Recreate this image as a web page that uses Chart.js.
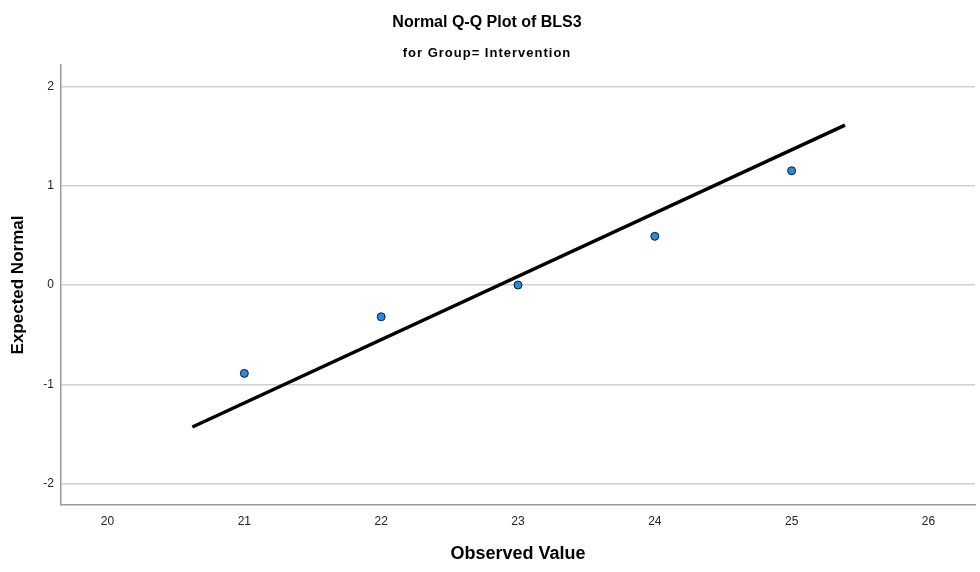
<!DOCTYPE html>
<html>
<head>
<meta charset="utf-8">
<script src="https://cdn.jsdelivr.net/npm/chart.js@4.4.1/dist/chart.umd.min.js"></script>
<style>
  html, body { margin: 0; padding: 0; background: #ffffff; }
  #wrap { width: 980px; height: 572px; }
</style>
</head>
<body>
<div id="wrap"><canvas id="qqChart" width="980" height="572"></canvas></div>
<script>
const chartTitle = 'Normal Q-Q Plot of BLS3';
const chartSubtitle = 'for Group= Intervention';
const xTitle = 'Observed Value';
const yTitle = 'Expected Normal';

// observed values and their expected normal quantiles
const observed = [21, 22, 23, 24, 25];
const expected = [-0.89, -0.32, 0.00, 0.49, 1.15];

// reference line end points
const lineX = [20.62, 25.39];
const lineY = [-1.43, 1.61];

const xTicks = [20, 21, 22, 23, 24, 25, 26];
const yTicks = [-2, -1, 0, 1, 2];
const xRange = [19.66, 26.34];
const yRange = [-2.215, 2.215];

const fontFamily = '"Liberation Sans", Arial, Helvetica, sans-serif';

// titles drawn by hand so the two lines sit where SPSS puts them
const titlePlugin = {
  id: 'spssTitles',
  afterDraw(chart) {
    const ctx = chart.ctx;
    ctx.save();
    ctx.fillStyle = '#000000';
    ctx.textAlign = 'center';
    ctx.textBaseline = 'alphabetic';
    ctx.font = 'bold 16px ' + fontFamily;
    ctx.fillText(chartTitle, 487, 27);
    ctx.font = 'bold 13px ' + fontFamily;
    if ('letterSpacing' in ctx) ctx.letterSpacing = '1px';
    ctx.fillText(chartSubtitle, 487, 57);
    ctx.restore();
  }
};

const ctx = document.getElementById('qqChart').getContext('2d');
new Chart(ctx, {
  type: 'scatter',
  data: {
    datasets: [
      {
        label: 'Observed',
        data: observed.map((x, i) => ({ x: x, y: expected[i] })),
        backgroundColor: '#1f8ce6',
        borderColor: '#1a1a1a',
        borderWidth: 1,
        pointRadius: 4,
        order: 2
      },
      {
        label: 'Line',
        type: 'line',
        data: lineX.map((x, i) => ({ x: x, y: lineY[i] })),
        borderColor: '#000000',
        borderWidth: 3.5,
        pointRadius: 0,
        fill: false,
        order: 1
      }
    ]
  },
  options: {
    responsive: false,
    devicePixelRatio: 1,
    animation: false,
    layout: { padding: { top: 65, right: 0, bottom: 0, left: 0 } },
    plugins: {
      legend: { display: false },
      tooltip: { enabled: false },
      title: { display: false }
    },
    scales: {
      x: {
        type: 'linear',
        min: xRange[0],
        max: xRange[1],
        afterBuildTicks: axis => { axis.ticks = xTicks.map(v => ({ value: v })); },
        afterFit: scale => { scale.height = 67; },
        grid: { display: false, drawTicks: false },
        border: { display: true, color: '#9a9a9a', width: 1.5 },
        ticks: {
          color: '#222222',
          padding: 9,
          font: { family: fontFamily, size: 12 },
          maxRotation: 0
        },
        title: {
          display: true,
          text: xTitle,
          color: '#000000',
          font: { family: fontFamily, size: 18, weight: 'bold' },
          padding: { top: 0, bottom: 7 }
        }
      },
      y: {
        type: 'linear',
        min: yRange[0],
        max: yRange[1],
        afterBuildTicks: axis => { axis.ticks = yTicks.map(v => ({ value: v })); },
        afterFit: scale => { scale.width = 61; },
        grid: { color: '#cfcfcf', lineWidth: 1.5, drawTicks: false },
        border: { display: true, color: '#9a9a9a', width: 1.5 },
        ticks: {
          color: '#222222',
          padding: 7,
          font: { family: fontFamily, size: 12 }
        },
        title: {
          display: true,
          text: yTitle,
          color: '#000000',
          font: { family: fontFamily, size: 17, weight: 'bold' },
          padding: { top: 8, bottom: 0 }
        }
      }
    }
  },
  plugins: [titlePlugin]
});
</script>
</body>
</html>
